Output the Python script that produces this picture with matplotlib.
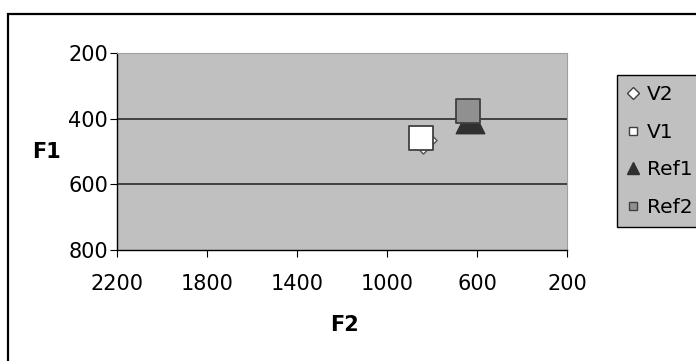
import matplotlib
matplotlib.use("Agg")
import matplotlib.pyplot as plt
from matplotlib.lines import Line2D
from matplotlib.patches import Rectangle

# Formant values (F2, F1) in Hz
series_names = ["V2", "V1", "Ref1", "Ref2"]
f2_values = [840, 851, 633, 639]
f1_values = [465, 458, 400, 378]

x_ticks = [2200, 1800, 1400, 1000, 600, 200]
y_ticks = [200, 400, 600, 800]

styles = {
    "V2": dict(marker="D", s=190, fc="white", ec="#505050", lw=1.0, z=3),
    "V1": dict(marker="s", s=310, fc="white", ec="#404040", lw=1.3, z=4),
    "Ref1": dict(marker="^", s=420, fc="#303030", ec="#303030", lw=1.0, z=3),
    "Ref2": dict(marker="s", s=310, fc="#909090", ec="#404040", lw=1.3, z=4),
}
legend_styles = {
    "V2": dict(marker="D", ms=6, mfc="white", mec="#404040"),
    "V1": dict(marker="s", ms=6, mfc="white", mec="#404040"),
    "Ref1": dict(marker="^", ms=8, mfc="#303030", mec="#303030"),
    "Ref2": dict(marker="s", ms=6, mfc="#909090", mec="#404040"),
}

plt.rcParams["font.family"] = ["DejaVu Sans"]

fig = plt.figure(figsize=(6.96, 3.61), dpi=100, facecolor="white")
W, H = 696, 361

# outer chart border (left and top visible, right/bottom clipped)
fig.patches.append(Rectangle((8 / W, -0.05), 1.2, 1.05 - 14 / H,
                             transform=fig.transFigure, fill=False,
                             ec="black", lw=1.6))

ax = fig.add_axes([117 / W, 1 - 250 / H, 450 / W, 197 / H])
ax.set_facecolor("#c0c0c0")
ax.set_xlim(2200, 200)
ax.set_ylim(800, 200)
ax.set_xticks(x_ticks)
ax.set_yticks(y_ticks)
ax.tick_params(labelsize=15, length=5, direction="out", colors="black")
ax.tick_params(axis="x", pad=12)
ax.tick_params(axis="y", pad=1.5)
for y in [400, 600]:
    ax.axhline(y, color="#404040", lw=1.4, zorder=1)
for side in ["top", "right"]:
    ax.spines[side].set_color("#a0a0a0")
    ax.spines[side].set_linewidth(0.8)
for side in ["left", "bottom"]:
    ax.spines[side].set_color("black")
    ax.spines[side].set_linewidth(1.0)

for name, x, y in zip(series_names, f2_values, f1_values):
    st = styles[name]
    ax.scatter([x], [y], marker=st["marker"], s=st["s"], facecolor=st["fc"],
               edgecolor=st["ec"], linewidths=st["lw"], zorder=st["z"],
               clip_on=False)

fig.text(47 / W, 1 - 152 / H, "F1", fontsize=15, fontweight="bold",
         ha="center", va="center")
fig.text(344 / W, 1 - 325 / H, "F2", fontsize=15, fontweight="bold",
         ha="center", va="center")

# legend box
handles = [Line2D([0], [0], ls="none", label=n, **legend_styles[n])
           for n in series_names]
leg = fig.legend(handles=handles, loc="upper left",
                 bbox_to_anchor=(617 / W, 1 - 75 / H), fontsize=14.5,
                 frameon=True, fancybox=False, edgecolor="black",
                 facecolor="#c0c0c0", framealpha=1.0, borderpad=0.5,
                 labelspacing=0.92, handlelength=0.6, handletextpad=0.4,
                 borderaxespad=0)
leg.get_frame().set_linewidth(1.0)

fig.savefig("out.png", dpi=100, facecolor="white")
